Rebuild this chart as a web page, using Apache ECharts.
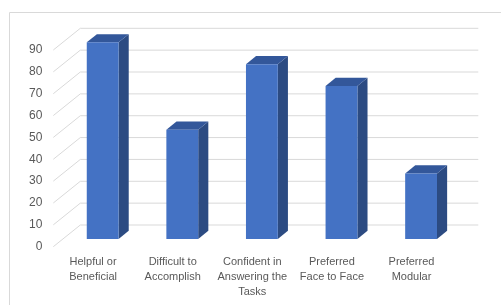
<!DOCTYPE html>
<html>
<head>
<meta charset="utf-8">
<script src="https://cdn.jsdelivr.net/npm/echarts@6/dist/echarts.min.js"></script>
<style>
  html, body { margin: 0; padding: 0; background: #fff; }
  #chart { width: 501px; height: 305px; }
</style>
</head>
<body>
<div id="chart"></div>
<script>
const categories = [
  "Helpful or\nBeneficial",
  "Difficult to\nAccomplish",
  "Confident in\nAnswering the\nTasks",
  "Preferred\nFace to Face",
  "Preferred\nModular"
];
const values = [90, 50, 80, 70, 30];
const yTicks = [0, 10, 20, 30, 40, 50, 60, 70, 80, 90];

// depth of the 3d box (px)
const DX = 27;
const DY = 21.7;
// bar sits between these depth fractions
const F0 = 0.355;
const F1 = 0.73;

const chart = echarts.init(document.getElementById("chart"));

function renderGrid(params, api) {
  const v = api.value(1);
  const band = api.size([1, 0])[0];
  const p0 = api.coord([0, v]);
  const pN = api.coord([categories.length - 1, v]);
  const xl = p0[0] - band / 2;
  const xr = pN[0] + band / 2;
  const y = p0[1];
  return {
    type: "polyline",
    shape: { points: [[xl, y], [xl + DX, y - DY], [xr + DX, y - DY]] },
    style: { stroke: "#d9d9d9", lineWidth: 1, fill: null }
  };
}

function renderBar(params, api) {
  const i = api.value(0);
  const band = api.size([1, 0])[0];
  const top = api.coord([i, api.value(1)]);
  const bot = api.coord([i, 0]);
  const w = band * 0.4;
  const cx = top[0] + F0 * DX;
  const x0 = cx - w / 2;
  const x1 = cx + w / 2;
  const yt = top[1] - F0 * DY;
  const yb = bot[1] - F0 * DY;
  const dx = (F1 - F0) * DX;
  const dy = (F1 - F0) * DY;
  return {
    type: "group",
    children: [
      {
        type: "polygon",
        shape: { points: [[x1, yt], [x1 + dx, yt - dy], [x1 + dx, yb - dy], [x1, yb]] },
        style: { fill: "#2c4b82" }
      },
      {
        type: "polygon",
        shape: { points: [[x0, yt], [x0 + dx, yt - dy], [x1 + dx, yt - dy], [x1, yt]] },
        style: { fill: "#33579a" }
      },
      {
        type: "rect",
        shape: { x: x0, y: yt, width: w, height: yb - yt },
        style: { fill: "#4472c4" }
      }
    ]
  };
}

const option = {
  animation: false,
  textStyle: { fontFamily: "Liberation Sans" },
  graphic: [
    {
      type: "rect",
      shape: { x: 9.5, y: 12.5, width: 600, height: 400 },
      style: { fill: null, stroke: "#d9d9d9", lineWidth: 1 },
      silent: true
    }
  ],
  grid: { left: 53.3, right: 49.7, top: 50, bottom: 58.3 },
  xAxis: {
    type: "category",
    data: categories,
    axisLine: { show: false },
    axisTick: { show: false },
    axisLabel: {
      color: "#595959",
      fontSize: 11,
      lineHeight: 15,
      margin: 8,
      interval: 0
    }
  },
  yAxis: {
    type: "value",
    min: 0,
    max: 90,
    interval: 10,
    axisLine: { show: false },
    axisTick: { show: false },
    splitLine: { show: false },
    axisLabel: { color: "#595959", fontSize: 12, margin: 11 }
  },
  series: [
    {
      type: "custom",
      renderItem: renderGrid,
      data: yTicks.map(t => [0, t]),
      z: 1,
      silent: true
    },
    {
      type: "custom",
      renderItem: renderBar,
      data: values.map((v, i) => [i, v]),
      z: 2
    }
  ]
};

chart.setOption(option);
</script>
</body>
</html>
